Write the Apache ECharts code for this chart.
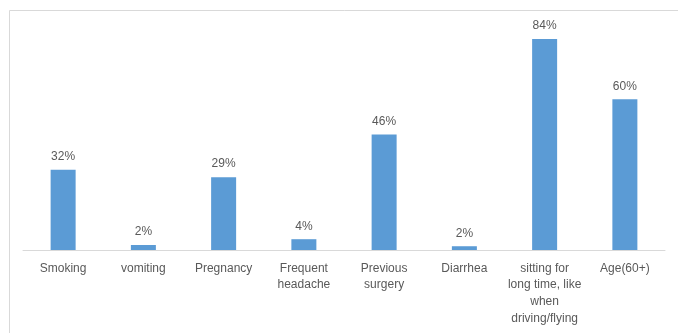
<!DOCTYPE html>
<html>
<head>
<meta charset="utf-8">
<script src="https://cdn.jsdelivr.net/npm/echarts@6/dist/echarts.min.js"></script>
<style>
html,body{margin:0;padding:0;background:#fff;}
#chart{width:678px;height:333px;}
</style>
</head>
<body>
<div id="chart"></div>
<script>
var categories = [
  "Smoking",
  "vomiting",
  "Pregnancy",
  "Frequent\nheadache",
  "Previous\nsurgery",
  "Diarrhea",
  "sitting for\nlong time, like\nwhen\ndriving/flying",
  "Age(60+)"
];
var values = [0.32, 0.02, 0.29, 0.043, 0.46, 0.015, 0.84, 0.60];

var chart = echarts.init(document.getElementById('chart'));
chart.setOption({
  animation: false,
  backgroundColor: '#ffffff',
  graphic: [{
    type: 'rect',
    left: 7, top: 8,
    shape: {width: 700, height: 400},
    style: {fill: 'none', stroke: '#d9d9d9', lineWidth: 1},
    silent: true
  }],
  grid: {left: 23, right: 13, top: 24, bottom: 83, containLabel: false},
  xAxis: {
    type: 'category',
    data: categories,
    axisLine: {show: true, lineStyle: {color: '#d9d9d9', width: 1}},
    axisTick: {show: false},
    axisLabel: {
      interval: 0,
      color: '#595959',
      fontFamily: 'Liberation Sans',
      fontSize: 12,
      lineHeight: 16.7,
      margin: 10
    }
  },
  yAxis: {
    type: 'value',
    min: 0,
    max: 0.9,
    show: false,
    splitLine: {show: false}
  },
  series: [{
    type: 'bar',
    data: values,
    barWidth: 25,
    itemStyle: {color: '#5b9bd5'},
    label: {
      show: true,
      position: 'top',
      distance: 7,
      color: '#595959',
      fontFamily: 'Liberation Sans',
      fontSize: 12,
      formatter: function (p) { return Math.round(p.value * 100) + '%'; }
    }
  }]
});
</script>
</body>
</html>
